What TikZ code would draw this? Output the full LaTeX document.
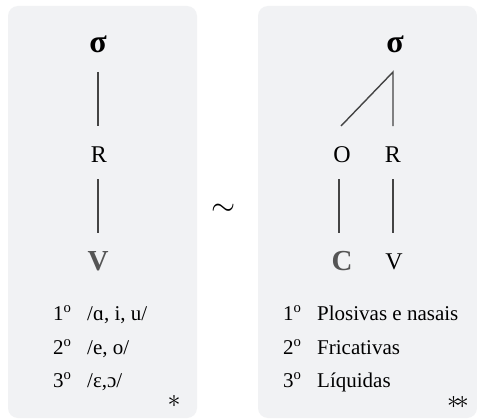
\documentclass[tikz,border=0pt]{standalone}
\usepackage{fix-cm}
\usepackage{fontspec}
\setmainfont{Liberation Serif}
\definecolor{panelbg}{HTML}{F1F2F4}
\definecolor{edgecol}{HTML}{444444}
\definecolor{graytxt}{HTML}{555555}
\begin{document}
\begin{tikzpicture}[x=1pt,y=-1pt,
  panel/.style={fill=panelbg,draw=none,rounded corners=10pt},
  sig/.style={anchor=base,inner sep=0pt,font=\fontsize{32}{34}\selectfont\bfseries},
  lab/.style={anchor=base,inner sep=0pt,font=\fontsize{24}{26}\selectfont},
  boldlab/.style={anchor=base,inner sep=0pt,text=graytxt,font=\fontsize{29}{31}\selectfont\bfseries},
  edge/.style={draw=edgecol,line width=1.4pt},
  item/.style={anchor=base west,inner sep=0pt,font=\fontsize{21}{23}\selectfont},
  star/.style={anchor=base,inner sep=0pt,font=\fontsize{26}{28}\selectfont}]
\useasboundingbox (0,0) rectangle (477,420);
\fill[white] (0,0) rectangle (477,420);
\path[panel] (8,6) rectangle (197,418);
\path[panel] (258,6) rectangle (477,418);
% left tree
\node[sig] (s1) at (98,53) {σ};
\node[lab] (r1) at (99,162) {R};
\node[boldlab] (v1) at (98,270) {V};
\coordinate (s1b) at (98,72);
\coordinate (r1t) at (98,126);
\coordinate (r1b) at (98,179);
\coordinate (v1t) at (98,233);
\draw[edge] (s1b) -- (r1t);
\draw[edge] (r1b) -- (v1t);
% left list
\node[item] (n11) at (53,320) {1\textsuperscript{o}};
\node[item] (t11) at (87,320) {/ɑ, i, u/};
\node[item] (n12) at (53,354) {2\textsuperscript{o}};
\node[item] (t12) at (87,354) {/e, o/};
\node[item] (n13) at (53,387) {3\textsuperscript{o}};
\node[item] (t13) at (87,387) {/ɛ,ɔ/};
\node[star] (st1) at (174,407) {$\ast$};
% tilde
\node[inner sep=0pt,font=\fontsize{31}{33}\selectfont] (tl) at (224,210) {$\sim$};
% right tree
\node[sig] (s2) at (395,53) {σ};
\node[lab] (o2) at (342,162) {O};
\node[lab] (r2) at (393,162) {R};
\node[boldlab] (c2) at (342,270) {C};
\node[lab] (v2) at (394,269) {V};
\coordinate (s2b) at (393,72);
\coordinate (o2t) at (341,126);
\coordinate (r2t) at (393,126);
\coordinate (o2b) at (339,179);
\coordinate (c2t) at (339,233);
\coordinate (r2b) at (393,179);
\coordinate (v2t) at (393,233);
\draw[edge] (o2t) -- (s2b) -- (r2t);
\draw[edge] (o2b) -- (c2t);
\draw[edge] (r2b) -- (v2t);
% right list
\node[item] (n21) at (283,320) {1\textsuperscript{o}};
\node[item] (t21) at (317,320) {Plosivas e nasais};
\node[item] (n22) at (283,354) {2\textsuperscript{o}};
\node[item] (t22) at (317,354) {Fricativas};
\node[item] (n23) at (283,387) {3\textsuperscript{o}};
\node[item] (t23) at (317,387) {Líquidas};
\node[star] (st2) at (458,408) {$\ast\mkern-3mu\ast$};
\end{tikzpicture}
\end{document}
